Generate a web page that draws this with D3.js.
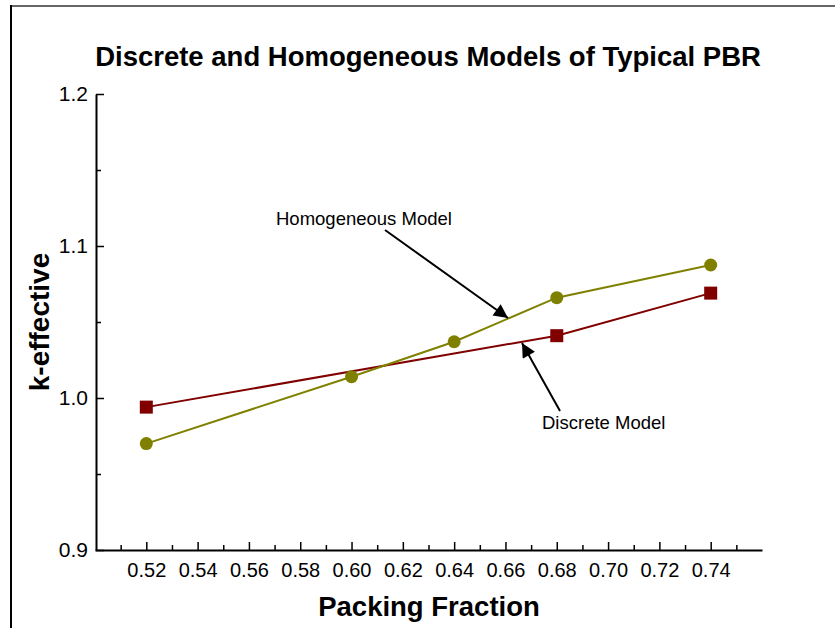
<!DOCTYPE html>
<html><head><meta charset="utf-8">
<script src="https://cdn.jsdelivr.net/npm/d3@7"></script>
<style>body{margin:0;background:#fff}svg{display:block}text{font-family:"Liberation Sans",Arial,sans-serif}</style>
</head><body>
<svg id="c" width="835" height="628"></svg>
<script>
const discreteX = [0.52, 0.68, 0.74];
const discreteY = [0.994, 1.041, 1.069];
const homogX = [0.52, 0.60, 0.64, 0.68, 0.74];
const homogY = [0.970, 1.014, 1.037, 1.066, 1.0875];
const xTicks = [0.52,0.54,0.56,0.58,0.60,0.62,0.64,0.66,0.68,0.70,0.72,0.74];
const yTicks = [0.9,1.0,1.1,1.2];

const svg = d3.select("#c");
const x = d3.scaleLinear().domain([0.50,0.76]).range([95,762]);
const y = d3.scaleLinear().domain([0.9,1.2]).range([550,94]);

// frame
svg.append("line").attr("x1",11).attr("x2",835).attr("y1",6).attr("y2",6).attr("stroke","#666").attr("stroke-width",2);
svg.append("line").attr("x1",11).attr("x2",11).attr("y1",5).attr("y2",628).attr("stroke","#000").attr("stroke-width",2);

// title
svg.append("text").attr("x",428).attr("y",66).attr("text-anchor","middle")
  .attr("font-size",27.5).attr("font-weight","bold").text("Discrete and Homogeneous Models of Typical PBR");

// x axis
const xAxis = d3.axisBottom(x).tickValues(d3.range(0.51,0.755,0.01)).tickSizeInner(-8).tickSizeOuter(0).tickPadding(12)
  .tickFormat(d => xTicks.some(t=>Math.abs(t-d)<1e-6) ? d3.format(".2f")(d) : "");
const gx = svg.append("g").attr("transform","translate(0,550)").call(xAxis);
gx.select(".domain").attr("stroke-width",2);
gx.selectAll(".tick line").attr("stroke-width",1.5)
  .attr("y2", d => xTicks.some(t=>Math.abs(t-d)<1e-6) ? -8 : -5);
gx.selectAll(".tick text").attr("font-size",20).attr("font-family","Liberation Sans, Arial, sans-serif").attr("y",13).attr("dy","0.71em");

// y axis
const yAxis = d3.axisLeft(y).tickValues([0.9,0.95,1.0,1.05,1.1,1.15,1.2]).tickSizeInner(-8).tickSizeOuter(0)
  .tickFormat(d => yTicks.some(t=>Math.abs(t-d)<1e-6) ? d3.format(".1f")(d) : "");
const gy = svg.append("g").attr("transform","translate(96,0)").call(yAxis);
gy.select(".domain").attr("stroke-width",2);
gy.selectAll(".tick line").attr("stroke-width",1.5)
  .attr("x2", d => yTicks.some(t=>Math.abs(t-d)<1e-6) ? 8 : 5);
gy.selectAll(".tick text").attr("font-size",21).attr("font-family","Liberation Sans, Arial, sans-serif").attr("x",-8);

// axis labels
svg.append("text").attr("x",429).attr("y",616).attr("text-anchor","middle")
  .attr("font-size",27.5).attr("font-weight","bold").text("Packing Fraction");
svg.append("text").attr("transform","translate(49,322) rotate(-90)").attr("text-anchor","middle")
  .attr("font-size",28).attr("font-weight","bold").text("k-effective");

// series
const line = d3.line().x(d=>x(d[0])).y(d=>y(d[1]));
const dData = discreteX.map((v,i)=>[v,discreteY[i]]);
const hData = homogX.map((v,i)=>[v,homogY[i]]);
svg.append("path").datum(dData).attr("d",line).attr("fill","none").attr("stroke","#800000").attr("stroke-width",2);
svg.append("path").datum(hData).attr("d",line).attr("fill","none").attr("stroke","#808000").attr("stroke-width",2);
svg.selectAll(".sq").data(dData).join("rect").attr("x",d=>x(d[0])-6.5).attr("y",d=>y(d[1])-6.5)
  .attr("width",13).attr("height",13).attr("fill","#800000");
svg.selectAll(".ci").data(hData).join("circle").attr("cx",d=>x(d[0])).attr("cy",d=>y(d[1]))
  .attr("r",6.5).attr("fill","#808000");

// annotations
const defs = svg.append("defs");
defs.append("marker").attr("id","ah").attr("viewBox","0 0 10 10").attr("refX",10).attr("refY",5)
  .attr("markerWidth",9).attr("markerHeight",7).attr("markerUnits","strokeWidth").attr("orient","auto")
  .append("path").attr("d","M0,0 L10,5 L0,10 Z").attr("fill","#000");
svg.append("text").attr("x",276).attr("y",225).attr("font-size",18.5).text("Homogeneous Model");
svg.append("line").attr("x1",385).attr("y1",230).attr("x2",508).attr("y2",318).attr("stroke","#000").attr("stroke-width",2).attr("marker-end","url(#ah)");
svg.append("text").attr("x",542).attr("y",429).attr("font-size",18.5).text("Discrete Model");
svg.append("line").attr("x1",560).attr("y1",411).attr("x2",522).attr("y2",343).attr("stroke","#000").attr("stroke-width",2).attr("marker-end","url(#ah)");
</script>
</body></html>
